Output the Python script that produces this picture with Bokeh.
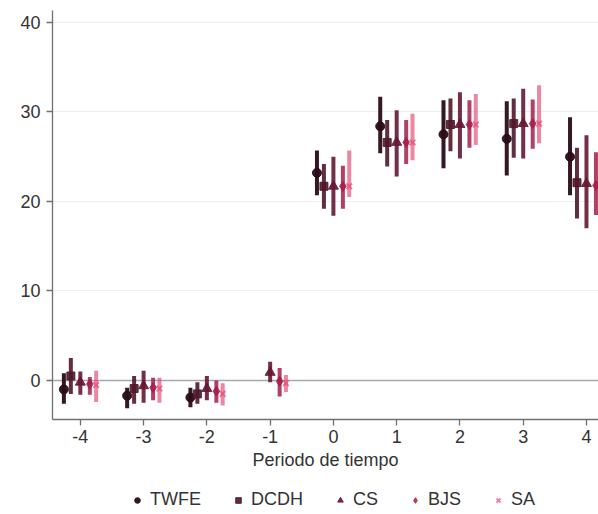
import math
from bokeh.plotting import figure
from bokeh.layouts import column
from bokeh.models import (Span, Legend, LegendItem, ColumnDataSource,
                          FixedTicker, Range1d)
from bokeh.transform import dodge
from bokeh.embed import file_html
from bokeh.resources import INLINE

nan = float("nan")

# ---- data ----
periods = [-4, -3, -2, -1, 0, 1, 2, 3, 4]
x_ticks = [-4, -3, -2, -1, 0, 1, 2, 3, 4]
x_tick_labels = ["-4", "-3", "-2", "-1", "0", "1", "2", "3", "4"]
y_ticks = [0, 10, 20, 30, 40]
estimators = ["TWFE", "DCDH", "CS", "BJS", "SA"]

twfe = [-1.0, -1.7, -1.9, nan, 23.2, 28.4, 27.5, 27.0, 25.0]
twfe_lo = [-2.6, -3.1, -3.0, nan, 20.7, 25.4, 23.7, 22.9, 20.7]
twfe_hi = [0.8, -0.8, -0.8, nan, 25.7, 31.7, 31.3, 31.2, 29.4]

dcdh = [0.5, -0.9, -1.5, nan, 21.7, 26.6, 28.6, 28.7, 22.1]
dcdh_lo = [-1.5, -2.6, -2.6, nan, 19.2, 23.9, 25.6, 24.9, 18.1]
dcdh_hi = [2.5, 0.5, -0.2, nan, 24.2, 29.1, 31.5, 31.5, 26.0]

cs = [-0.2, -0.6, -0.9, 0.9, 21.7, 26.6, 28.6, 28.7, 22.0]
cs_lo = [-1.6, -2.5, -2.2, -0.2, 18.4, 22.8, 24.8, 24.8, 17.0]
cs_hi = [1.0, 1.1, 0.5, 2.1, 25.0, 30.2, 32.2, 32.6, 27.4]

bjs = [-0.4, -0.8, -1.2, -0.1, 21.7, 26.6, 28.6, 28.7, 21.8]
bjs_lo = [-1.6, -2.2, -2.5, -1.8, 19.2, 24.2, 26.0, 25.9, 18.5]
bjs_hi = [0.4, 0.3, 0.0, 1.4, 24.0, 29.1, 31.3, 31.4, 25.5]

sa = [-0.5, -0.9, -1.5, -0.3, 21.7, 26.6, 28.6, 28.7, 20.5]
sa_lo = [-2.4, -2.5, -2.8, -1.3, 20.5, 24.6, 26.3, 26.5, 13.0]
sa_hi = [1.1, 0.3, -0.3, 0.6, 25.7, 29.8, 32.0, 33.0, 27.0]

series = [
    (twfe, twfe_lo, twfe_hi),
    (dcdh, dcdh_lo, dcdh_hi),
    (cs, cs_lo, cs_hi),
    (bjs, bjs_lo, bjs_hi),
    (sa, sa_lo, sa_hi),
]

# ---- styles ----
offsets = [-0.26, -0.15, 0.0, 0.15, 0.25]
colors = ["#2b0c19", "#4f1829", "#661733", "#a51d4b", "#e2456f"]
bar_alpha = [0.95, 0.9, 0.9, 0.85, 0.65]
markers = ["circle", "square", "triangle", "diamond", "x"]
msizes = [9, 8, 10, 10, 8]
FONT = "Liberation Sans"
FS = "18px"

p = figure(width=598, height=479, output_backend="svg", toolbar_location=None,
           x_range=Range1d(-4.44, 4.19), y_range=Range1d(-4.36, 41.34),
           min_border_left=52, min_border_right=0, min_border_top=10,
           min_border_bottom=60)
p.outline_line_color = None
p.background_fill_color = "white"

p.xgrid.grid_line_color = None
p.ygrid.ticker = FixedTicker(ticks=y_ticks)
p.ygrid.grid_line_color = "#eeeeee"
p.ygrid.grid_line_width = 1.2

p.add_layout(Span(location=0, dimension="width", line_color="#a8a8a8",
                  line_width=1.5, level="underlay"))

# legend-only strip below the chart (its ranges keep the data out of view;
# only the legend samples show)
lg = figure(width=598, height=35, output_backend="svg", toolbar_location=None,
            x_range=Range1d(100, 101), y_range=Range1d(100, 101),
            x_axis_type=None, y_axis_type=None, min_border=0)
lg.outline_line_color = None
lg.grid.grid_line_color = None

legend_items = []
for i, name in enumerate(estimators):
    est, lo, hi = series[i]
    src = ColumnDataSource(dict(period=periods, est=est, lo=lo, hi=hi))
    xd = dodge("period", offsets[i], range=p.x_range)
    p.segment(x0=xd, y0="lo", x1=xd, y1="hi", source=src,
              line_color=colors[i], line_width=4, line_alpha=bar_alpha[i])
    p.scatter(x=xd, y="est", source=src, marker=markers[i], size=msizes[i],
              fill_color=colors[i], line_color=colors[i],
              fill_alpha=bar_alpha[i], line_alpha=bar_alpha[i],
              line_width=2 if markers[i] == "x" else 1)
    r = lg.scatter(x="period", y="est", source=src, marker=markers[i],
                   size=msizes[i], fill_color=colors[i], line_color=colors[i],
                   fill_alpha=bar_alpha[i], line_alpha=bar_alpha[i],
                   line_width=2 if markers[i] == "x" else 1)
    legend_items.append(LegendItem(label=name, renderers=[r]))

for ax in (p.xaxis[0], p.yaxis[0]):
    ax.axis_line_color = "#707070"
    ax.axis_line_width = 1.3
    ax.major_tick_line_color = "#707070"
    ax.major_tick_line_width = 1.3
    ax.major_tick_out = 6
    ax.major_tick_in = 0
    ax.minor_tick_line_color = None
    ax.major_label_text_font = FONT
    ax.major_label_text_font_size = FS
    ax.major_label_text_color = "#333333"

p.xaxis.ticker = FixedTicker(ticks=x_ticks)
p.xaxis.major_label_overrides = dict(zip(x_ticks, x_tick_labels))
p.yaxis.ticker = FixedTicker(ticks=y_ticks)
p.xaxis.major_label_standoff = 4
p.yaxis.major_label_standoff = 6

p.xaxis.axis_label = "Periodo de tiempo"
p.xaxis.axis_label_text_font = FONT
p.xaxis.axis_label_text_font_size = FS
p.xaxis.axis_label_text_font_style = "normal"
p.xaxis.axis_label_text_color = "#333333"
p.xaxis.axis_label_standoff = 4

legend = Legend(items=legend_items, orientation="horizontal",
                location=(78, 4), border_line_color=None,
                background_fill_alpha=0, label_text_font=FONT,
                label_text_font_size=FS, label_text_color="#333333",
                glyph_width=14, glyph_height=14, label_standoff=6,
                spacing=30, padding=4, margin=0, label_height=18)
lg.add_layout(legend)

layout = column(p, lg, spacing=0)
open("out.html", "w").write(file_html(layout, INLINE))
